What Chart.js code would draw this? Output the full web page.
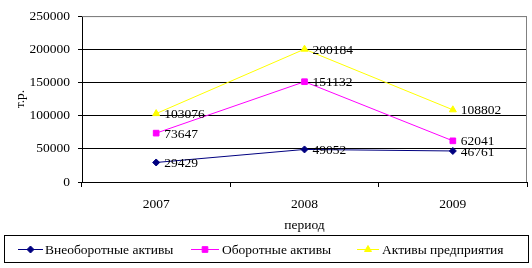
<!DOCTYPE html>
<html>
<head>
<meta charset="utf-8">
<script src="https://cdn.jsdelivr.net/npm/chart.js@4/dist/chart.umd.min.js"></script>
<style>
  html, body { margin: 0; padding: 0; background: #fff; }
  #wrap { width: 532px; height: 268px; position: relative; }
</style>
</head>
<body>
<div id="wrap"><canvas id="chart" width="532" height="268"></canvas></div>
<script>
// Asset structure by year, thousand rubles
const years = ["2007", "2008", "2009"];
const nonCurrent = [29429, 49052, 46761];
const current = [73647, 151132, 62041];
const total = [103076, 200184, 108802];
const seriesNames = ["Внеоборотные активы", "Оборотные активы", "Активы предприятия"];

const FONT = "Liberation Serif, Times New Roman, serif";
const FS = 13.5;
const COLORS = { navy: "#000080", magenta: "#ff00ff", yellow: "#ffff00" };

// value labels to the right of each point
const valueLabels = {
  id: "valueLabels",
  afterDatasetsDraw(chart) {
    const ctx = chart.ctx;
    ctx.save();
    ctx.font = FS + "px " + FONT;
    ctx.fillStyle = "#000";
    ctx.textAlign = "left";
    ctx.textBaseline = "middle";
    chart.data.datasets.forEach((ds, i) => {
      chart.getDatasetMeta(i).data.forEach((pt, j) => {
        ctx.fillText(String(ds.data[j]), pt.x + 8, pt.y + 1);
      });
    });
    ctx.restore();
  },
};

// grey frame on top/right of plot area
const plotFrame = {
  id: "plotFrame",
  beforeDatasetsDraw(chart) {
    const { ctx, chartArea: a } = chart;
    ctx.save();
    ctx.strokeStyle = "#808080";
    ctx.lineWidth = 1;
    ctx.beginPath();
    ctx.moveTo(a.left, a.top + 0.5);
    ctx.lineTo(a.right - 0.5, a.top + 0.5);
    ctx.lineTo(a.right - 0.5, a.bottom);
    ctx.stroke();
    ctx.restore();
  },
};

// boxed legend at the bottom
const boxLegend = {
  id: "boxLegend",
  afterDraw(chart) {
    const ctx = chart.ctx;
    ctx.save();
    ctx.strokeStyle = "#000";
    ctx.lineWidth = 1;
    ctx.strokeRect(4.5, 235.5, 524, 27);
    const items = [
      { x1: 18, x2: 43, tx: 45 },
      { x1: 191, x2: 219, tx: 222 },
      { x1: 357, x2: 379, tx: 382 },
    ];
    const y = 249.5;
    ctx.font = FS + "px " + FONT;
    ctx.textBaseline = "middle";
    chart.data.datasets.forEach((ds, i) => {
      const it = items[i];
      ctx.strokeStyle = ds.borderColor;
      ctx.fillStyle = ds.backgroundColor;
      ctx.beginPath();
      ctx.moveTo(it.x1, y);
      ctx.lineTo(it.x2, y);
      ctx.stroke();
      Chart.helpers.drawPoint(ctx, {
        pointStyle: ds.pointStyle,
        radius: ds.pointRadius,
        borderWidth: 1,
      }, (it.x1 + it.x2) / 2, y);
      ctx.fillStyle = "#000";
      ctx.fillText(seriesNames[i], it.tx, y + 1);
    });
    ctx.restore();
  },
};

function series(i, data, color, style, r) {
  return {
    label: seriesNames[i],
    data,
    borderColor: color,
    backgroundColor: color,
    borderWidth: 1,
    pointStyle: style,
    pointRadius: r,
    pointHoverRadius: r,
    pointBorderWidth: 1,
    tension: 0,
  };
}

new Chart(document.getElementById("chart"), {
  type: "line",
  data: {
    labels: years,
    datasets: [
      series(0, nonCurrent, COLORS.navy, "rectRot", 3.5),
      series(1, current, COLORS.magenta, "rect", 4),
      series(2, total, COLORS.yellow, "triangle", 4),
    ],
  },
  options: {
    responsive: false,
    animation: false,
    events: [],
    layout: { padding: { top: 16, left: 0, right: 5, bottom: 34 } },
    plugins: { legend: { display: false }, tooltip: { enabled: false } },
    scales: {
      x: {
        offset: true,
        grid: { offset: true, drawOnChartArea: false, color: "#000", tickLength: 5 },
        border: { color: "#000" },
        ticks: { color: "#000", font: { family: FONT, size: FS }, padding: 9, maxRotation: 0 },
        title: { display: true, text: "период", color: "#000", font: { family: FONT, size: FS }, padding: 0 },
        afterFit(scale) { scale.height = 52; },
      },
      y: {
        min: 0,
        max: 250000,
        grid: {
          color: (c) => (c.tick && c.tick.value === 250000 ? "#808080" : "#000"),
          tickColor: "#000",
          tickLength: 4,
        },
        border: { color: "#000" },
        ticks: {
          stepSize: 50000,
          color: "#000",
          font: { family: FONT, size: FS },
          padding: 8,
          callback: (v) => String(v),
        },
        title: { display: true, text: "т.р.", color: "#000", font: { family: FONT, size: FS }, padding: 12 },
        afterFit(scale) { scale.width = 82; },
      },
    },
  },
  plugins: [plotFrame, valueLabels, boxLegend],
});
</script>
</body>
</html>
